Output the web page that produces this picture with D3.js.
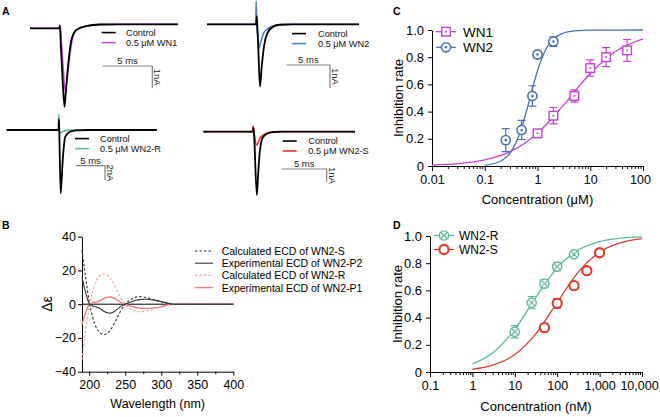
<!DOCTYPE html>
<html lang="en">
<head>
<meta charset="UTF-8">
<title>WN1 / WN2 inhibition figure</title>
<script src="https://d3js.org/d3.v7.min.js"></script>
<style>
  body { margin: 0; background: #fff; }
  svg { font-family: "Liberation Sans", Arial, sans-serif; }
  .tag { font-size: 10.5px; font-weight: bold; }
  .axis path, .axis line { stroke: #000; stroke-width: 1; }
  .axis text { fill: #000; }
</style>
</head>
<body>
<div id="chart"></div>
<script>
// ---------- Panel A: current traces, [time (ms), current (nA)] ----------
const wn1Control = [[0,-0.18],[2.95,-0.18],[3.02,-0.05],[3.1,-0.9],[3.3,-2.6],[3.48,-3.7],[3.6,-3.1],[3.83,-1.9],[4.17,-0.7],[4.67,-0.25],[5.67,-0.08],[7,-0.01],[9,0],[14.9,0]];
const wn1Drug    = [[0,-0.18],[2.95,-0.18],[3.05,-0.1],[3.15,-0.7],[3.35,-2.0],[3.55,-3.0],[3.7,-2.6],[3.95,-1.6],[4.3,-0.6],[4.8,-0.22],[5.8,-0.07],[7.1,-0.01],[9,0],[14.9,0]];
const wn2Control = [[0,0],[5.7,0],[5.74,0.35],[5.8,0],[5.93,-1.12],[6.12,-2.71],[6.32,-1.84],[6.58,-0.97],[6.96,-0.39],[7.65,-0.1],[8.43,-0.02],[10,0],[17.55,0]];
const wn2Drug    = [[0,0],[5.62,0],[5.68,1.0],[5.74,0.1],[5.85,-0.45],[6.0,-1.04],[6.2,-0.78],[6.5,-0.42],[7.08,-0.17],[7.85,-0.04],[9,0],[17.55,0]];
const wn2rControl = [[0,0],[8.95,0],[9.0,1.5],[9.06,0],[9.3,-8.85],[9.7,-3.73],[10.1,-0.94],[10.9,-0.24],[12,-0.05],[14,0],[25.9,0]];
const wn2rDrug    = [[0,0],[8.9,0],[8.97,2.2],[9.05,0.3],[9.2,-0.35],[9.5,-0.3],[10,-0.12],[11,-0.02],[12,0],[25.9,0]];
const wn2sControl = [[0,0],[5.5,0],[5.56,0.3],[5.62,0],[5.95,-5.0],[6.1,-3.28],[6.3,-1.44],[6.67,-0.39],[7.4,-0.08],[8.5,0],[16.86,0]];
const wn2sDrug    = [[0,0],[5.48,0],[5.54,0.45],[5.62,0],[5.93,-1.05],[6.3,-0.52],[6.85,-0.18],[7.6,-0.03],[9,0],[16.86,0]];
const traceLabels = ["0.5 μM WN1", "0.5 μM WN2", "0.5 μM WN2-R", "0.5 μM WN2-S"];
const barCurrent = [1, 1, 2, 1];   // nA of each vertical scale bar

// ---------- Panel B: ECD spectra ----------
const wavelength = [190,195,200,205,210,215,220,225,230,235,240,245,250,255,260,265,270,275,280,290,300,310,315,320,400];
const calcS = [32,16,1.5,-8,-14,-17,-18,-17.3,-15,-11.2,-7,-3,0,2,3.4,4.2,4.5,4.3,3.9,2.6,1.3,0.3,0,0,0];
const expP2 = [16,7,0.5,-1,-1.6,-2.6,-4,-5.1,-5.3,-4.3,-2.6,-1,0,0.9,1.7,2.3,2.7,2.9,2.9,2.4,1.6,0.5,0.1,0,0];
const calcR = [-33,-16,-1.5,8,14,17,18,17.3,15,11.2,7,3,0,-2,-3.4,-4.2,-4.5,-4.3,-3.9,-2.6,-1.3,-0.3,0,0,0];
const expP1 = [-12,-5,-0.3,0.9,1.3,2.1,3.3,4.1,4.3,3.5,2.1,0.8,0,-0.8,-1.5,-2,-2.4,-2.5,-2.5,-2.1,-1.4,-0.4,-0.1,0,0];
const ecdLabels = ["Calculated ECD of WN2-S", "Experimental ECD of WN2-P2", "Calculated ECD of WN2-R", "Experimental ECD of WN2-P1"];

// ---------- Panel C: WN1 / WN2 (μM) ----------
const wn1Conc = [1, 2, 5, 10, 20, 50];
const wn1Inh  = [0.24, 0.37, 0.515, 0.72, 0.80, 0.85];
const wn1Err  = [0.025, 0.06, 0.045, 0.06, 0.07, 0.08];
const wn2Conc = [0.25, 0.5, 0.8, 1, 2];
const wn2Inh  = [0.19, 0.265, 0.515, 0.82, 0.915];
const wn2Err  = [0.085, 0.07, 0.075, 0.025, 0.035];
const wn1FitConc = [0.01, 0.03, 0.1, 0.3, 1, 3, 10, 30, 100];
const wn1FitInh  = [0.007, 0.017, 0.045, 0.104, 0.24, 0.44, 0.68, 0.842, 0.935];
const wn2FitConc = [0.1, 0.2, 0.3, 0.5, 0.7, 1, 1.5, 2, 3, 5, 10, 100];
const wn2FitInh  = [0.006, 0.035, 0.093, 0.279, 0.482, 0.70, 0.871, 0.934, 0.976, 0.994, 0.999, 1.0];
const cTicks = [0.01, 0.1, 1, 10, 100];
const cTickLabels = ["0.01", "0.1", "1", "10", "100"];

// ---------- Panel D: WN2-R / WN2-S (nM) ----------
const wn2rConc = [10, 25, 50, 100, 250];
const wn2rInh  = [0.296, 0.51, 0.65, 0.775, 0.865];
const wn2rErr  = [0.045, 0.045, 0.03, 0.03, 0.02];
const wn2sConc = [50, 100, 250, 500, 1000];
const wn2sInh  = [0.326, 0.505, 0.635, 0.745, 0.877];
const wn2sErr  = [0.03, 0.035, 0.02, 0.01, 0.01];
const fitConcD = [1, 3, 10, 30, 100, 300, 1000, 3000, 10000];
const wn2rFitInh = [0.06, 0.14, 0.314, 0.539, 0.766, 0.893, 0.959, 0.984, 0.994];
const wn2sFitInh = [0.02, 0.05, 0.128, 0.273, 0.511, 0.727, 0.881, 0.949, 0.981];
const dTicks = [0.1, 1, 10, 100, 1000, 10000];
const dTickLabels = ["0.1", "1", "10", "100", "1,000", "10,000"];

const inhTicks = [0, 0.2, 0.4, 0.6, 0.8, 1.0];
const inhTickLabels = ["0", "0.2", "0.4", "0.6", "0.8", "1.0"];

const svg = d3.select("#chart").append("svg")
  .attr("width", 660).attr("height", 417);

function tag(t, x, y) {
  svg.append("text").attr("class", "tag").attr("x", x).attr("y", y).text(t);
}
tag("A", 2, 15); tag("B", 2, 229); tag("C", 393, 15); tag("D", 393, 229);

// ===================== Panel A =====================
const traceSet = [
  { ctrl: wn1Control, drug: wn1Drug, color: "#c24fd6", x0: 30, x1: 178, msPx: 9.92, y0: 24.3, naPx: 22.3,
    bar: [102.7, 66], leg: [101.7, 32.6, 126] },
  { ctrl: wn2Control, drug: wn2Drug, color: "#4d7fc0", x0: 207, x1: 359, msPx: 8.66, y0: 24.3, naPx: 23,
    bar: [286.7, 65], leg: [292, 33.6, 318] },
  { ctrl: wn2rControl, drug: wn2rDrug, color: "#5fbd9e", x0: 6.7, x1: 156.7, msPx: 5.8, y0: 130, naPx: 7.15,
    bar: [76, 165.7], leg: [75, 138.6, 100] },
  { ctrl: wn2sControl, drug: wn2sDrug, color: "#e8352d", x0: 203.3, x1: 355, msPx: 9, y0: 131.7, naPx: 12.7,
    bar: [281.7, 169], leg: [282.7, 141, 308.3] }
];

traceSet.forEach((p, i) => {
  const x = d3.scaleLinear().domain([0, (p.x1 - p.x0) / p.msPx]).range([p.x0, p.x1]);
  const y = d3.scaleLinear().domain([0, -1]).range([p.y0, p.y0 + p.naPx]);
  const line = d3.line().x(d => x(d[0])).y(d => y(d[1])).curve(d3.curveMonotoneX);
  const g = svg.append("g");

  g.append("path").attr("d", line(p.drug)).attr("fill", "none")
    .attr("stroke", p.color).attr("stroke-width", 1.6);
  g.append("path").attr("d", line(p.ctrl)).attr("fill", "none")
    .attr("stroke", "#000").attr("stroke-width", 1.8);

  // legend
  const [lx, ly, tx] = p.leg;
  [["#000", "Control"], [p.color, traceLabels[i]]].forEach(([c, t], k) => {
    const yy = ly + k * 10;
    g.append("line").attr("x1", lx).attr("x2", lx + 14).attr("y1", yy).attr("y2", yy)
      .attr("stroke", c).attr("stroke-width", 1.6);
    g.append("text").attr("x", tx).attr("y", yy + 3.2).attr("font-size", "9.2px").attr("fill", "#111").text(t);
  });

  // scale bars
  const [bx, by] = p.bar;
  const bx1 = bx + x(5) - x(0);
  const by1 = by + y(-barCurrent[i]) - y(0);
  g.append("path").attr("d", `M${bx},${by}H${bx1}V${by1}`)
    .attr("fill", "none").attr("stroke", "#808080").attr("stroke-width", 1.2);
  g.append("text").attr("x", (bx + bx1) / 2).attr("y", by - 2).attr("text-anchor", "middle")
    .attr("font-size", "9.5px").attr("fill", "#222").text("5 ms");
  g.append("text").attr("transform", `translate(${bx1 + 2},${(by + by1) / 2}) rotate(90)`)
    .attr("text-anchor", "middle").attr("font-size", "9.5px").attr("fill", "#222")
    .text(barCurrent[i] + "nA");
});

// ===================== Panel B =====================
const xB = d3.scaleLinear().domain([190, 400]).range([82, 233.3]);
const yB = d3.scaleLinear().domain([-40, 40]).range([371.7, 236.7]);

svg.append("g").attr("class", "axis").attr("transform", "translate(82,0)")
  .call(d3.axisLeft(yB).tickValues([-40, -20, 0, 20, 40]).tickSize(4).tickPadding(2).tickSizeOuter(0))
  .selectAll("text").attr("font-size", "12.5px").attr("font-family", null);
svg.append("g").attr("class", "axis").attr("transform", "translate(0,371.7)")
  .call(d3.axisBottom(xB).tickValues([200, 250, 300, 350, 400]).tickSize(4).tickPadding(4).tickSizeOuter(0))
  .selectAll("text").attr("font-size", "12.5px").attr("font-family", null);
svg.append("g").attr("class", "axis").attr("transform", "translate(0,371.7)")
  .call(d3.axisBottom(xB).tickValues([225, 275, 325, 375]).tickSize(2.5).tickFormat(""))
  .select(".domain").remove();

svg.append("line").attr("x1", xB(190)).attr("x2", xB(400)).attr("y1", yB(0)).attr("y2", yB(0))
  .attr("stroke", "#000").attr("stroke-width", 1);

const ecdSeries = [
  { v: calcR, color: "#f4a3a3", dash: "2.5,2", w: 1.1 },
  { v: expP1, color: "#f07f7f", dash: null, w: 1.4 },
  { v: calcS, color: "#333", dash: "2.5,2", w: 1.1 },
  { v: expP2, color: "#333", dash: null, w: 1.1 }
];
const ecdLine = d3.line().x((d, i) => xB(wavelength[i])).y(d => yB(d)).curve(d3.curveMonotoneX);
ecdSeries.forEach(s => {
  svg.append("path").attr("d", ecdLine(s.v)).attr("fill", "none")
    .attr("stroke", s.color).attr("stroke-width", s.w).attr("stroke-dasharray", s.dash);
});

// legend B (order as in the figure)
const legendB = [ecdSeries[2], ecdSeries[3], ecdSeries[0], ecdSeries[1]];
legendB.forEach((s, i) => {
  const yy = 251 + i * 12.2;
  svg.append("line").attr("x1", 195).attr("x2", 213).attr("y1", yy).attr("y2", yy)
    .attr("stroke", s.color).attr("stroke-width", s.w).attr("stroke-dasharray", s.dash);
  svg.append("text").attr("x", 221.7).attr("y", yy + 4).attr("font-size", "10.5px").text(ecdLabels[i]);
});

svg.append("text").attr("transform", "translate(52,304) rotate(-90)").attr("text-anchor", "middle")
  .attr("font-size", "14px").text("Δε");
svg.append("text").attr("x", 157.7).attr("y", 408).attr("text-anchor", "middle")
  .attr("font-size", "12.5px").text("Wavelength (nm)");

// ===================== Panels C & D (dose-response) =====================
function logAxis(x, yPix, majors, labels) {
  const minors = x.ticks().filter(v => !majors.some(m => Math.abs(m - v) / m < 1e-6));
  const ax = svg.append("g").attr("class", "axis").attr("transform", `translate(0,${yPix})`)
    .call(d3.axisBottom(x).tickValues(majors).tickSize(5).tickPadding(4).tickSizeOuter(0)
      .tickFormat((d, i) => labels[i]));
  ax.selectAll("text").attr("font-size", "12.5px").attr("font-family", null);
  // keep the widest end label inside the frame
  ax.selectAll("text").filter((d, i, n) => i === n.length - 1 && x(d) + 20 > 658).attr("dx", -3);
  svg.append("g").attr("class", "axis").attr("transform", `translate(0,${yPix})`)
    .call(d3.axisBottom(x).tickValues(minors).tickSize(3).tickFormat(""))
    .select(".domain").remove();
}
function inhAxis(y, xPix) {
  svg.append("g").attr("class", "axis").attr("transform", `translate(${xPix},0)`)
    .call(d3.axisLeft(y).tickValues(inhTicks).tickSize(4).tickPadding(4).tickSizeOuter(0)
      .tickFormat((d, i) => inhTickLabels[i]))
    .selectAll("text").attr("font-size", "13px").attr("font-family", null);
}
function errorBars(x, y, conc, inh, err, color) {
  conc.forEach((c, i) => {
    const cx = x(c), y1 = y(inh[i] + err[i]), y2 = y(inh[i] - err[i]);
    svg.append("path").attr("d", `M${cx},${y1}V${y2}M${cx - 4},${y1}H${cx + 4}M${cx - 4},${y2}H${cx + 4}`)
      .attr("stroke", color).attr("stroke-width", 1.2).attr("fill", "none");
  });
}
function marker(g, kind, cx, cy, color) {
  if (kind === "square") {
    g.append("rect").attr("x", cx - 4.3).attr("y", cy - 4.3).attr("width", 8.6).attr("height", 8.6)
      .attr("fill", "#fff").attr("stroke", color).attr("stroke-width", 1.4);
    g.append("circle").attr("cx", cx).attr("cy", cy).attr("r", 1).attr("fill", color);
  } else if (kind === "dot") {
    g.append("circle").attr("cx", cx).attr("cy", cy).attr("r", 4.6)
      .attr("fill", "#fff").attr("stroke", color).attr("stroke-width", 1.6);
    g.append("circle").attr("cx", cx).attr("cy", cy).attr("r", 1.3).attr("fill", color);
  } else if (kind === "cross") {
    g.append("circle").attr("cx", cx).attr("cy", cy).attr("r", 4.6)
      .attr("fill", "#fff").attr("stroke", color).attr("stroke-width", 1.4);
    g.append("path").attr("d", `M${cx - 3},${cy - 3}L${cx + 3},${cy + 3}M${cx - 3},${cy + 3}L${cx + 3},${cy - 3}`)
      .attr("stroke", color).attr("stroke-width", 1.1);
  } else {
    g.append("circle").attr("cx", cx).attr("cy", cy).attr("r", 4.6)
      .attr("fill", "#fff").attr("stroke", color).attr("stroke-width", 2.1);
  }
}
function doseSeries(x, y, s) {
  const fit = d3.line().x((d, i) => x(s.fitConc[i])).y(d => y(d)).curve(d3.curveMonotoneX);
  svg.append("path").attr("d", fit(s.fitInh)).attr("fill", "none")
    .attr("stroke", s.color).attr("stroke-width", 1.3);
  errorBars(x, y, s.conc, s.inh, s.err, s.color);
  const g = svg.append("g");
  s.conc.forEach((c, i) => marker(g, s.kind, x(c), y(s.inh[i]), s.color));
}
function doseLegend(items, lx, ly, gap, tx, fs) {
  items.forEach((s, i) => {
    const yy = ly + i * gap;
    svg.append("line").attr("x1", lx).attr("x2", lx + 20).attr("y1", yy).attr("y2", yy)
      .attr("stroke", s.color).attr("stroke-width", 1.3);
    marker(svg.append("g"), s.kind, lx + 10, yy, s.color);
    svg.append("text").attr("x", tx).attr("y", yy + fs * 0.36).attr("font-size", fs + "px").text(s.name);
  });
}

// Panel C
const xC = d3.scaleLog().domain([0.01, 100]).range([432, 643]);
const yC = d3.scaleLinear().domain([0, 1]).range([166, 30]);
inhAxis(yC, 432);
logAxis(xC, 166, cTicks, cTickLabels);
const seriesC = [
  { name: "WN1", conc: wn1Conc, inh: wn1Inh, err: wn1Err, fitConc: wn1FitConc, fitInh: wn1FitInh, color: "#c042d2", kind: "square" },
  { name: "WN2", conc: wn2Conc, inh: wn2Inh, err: wn2Err, fitConc: wn2FitConc, fitInh: wn2FitInh, color: "#4a72b0", kind: "dot" }
];
seriesC.forEach(s => doseSeries(xC, yC, s));
doseLegend(seriesC, 436, 31.7, 15.6, 463, 13.5);
svg.append("text").attr("transform", "translate(403,98) rotate(-90)").attr("text-anchor", "middle")
  .attr("font-size", "13px").text("Inhibition rate");
svg.append("text").attr("x", 537.5).attr("y", 204).attr("text-anchor", "middle")
  .attr("font-size", "13px").text("Concentration (μM)");

// Panel D
const xD = d3.scaleLog().domain([0.1, 10000]).range([430, 642]);
const yD = d3.scaleLinear().domain([0, 1]).range([372, 236]);
inhAxis(yD, 430);
logAxis(xD, 372, dTicks, dTickLabels);
const seriesD = [
  { name: "WN2-R", conc: wn2rConc, inh: wn2rInh, err: wn2rErr, fitConc: fitConcD, fitInh: wn2rFitInh, color: "#5cb89a", kind: "cross" },
  { name: "WN2-S", conc: wn2sConc, inh: wn2sInh, err: wn2sErr, fitConc: fitConcD, fitInh: wn2sFitInh, color: "#e03a30", kind: "ring" }
];
seriesD.forEach(s => doseSeries(xD, yD, s));
doseLegend(seriesD, 434, 235.5, 14, 459, 12);
svg.append("text").attr("transform", "translate(402,304) rotate(-90)").attr("text-anchor", "middle")
  .attr("font-size", "13px").text("Inhibition rate");
svg.append("text").attr("x", 536).attr("y", 411).attr("text-anchor", "middle")
  .attr("font-size", "13px").text("Concentration (nM)");
</script>
</body>
</html>
